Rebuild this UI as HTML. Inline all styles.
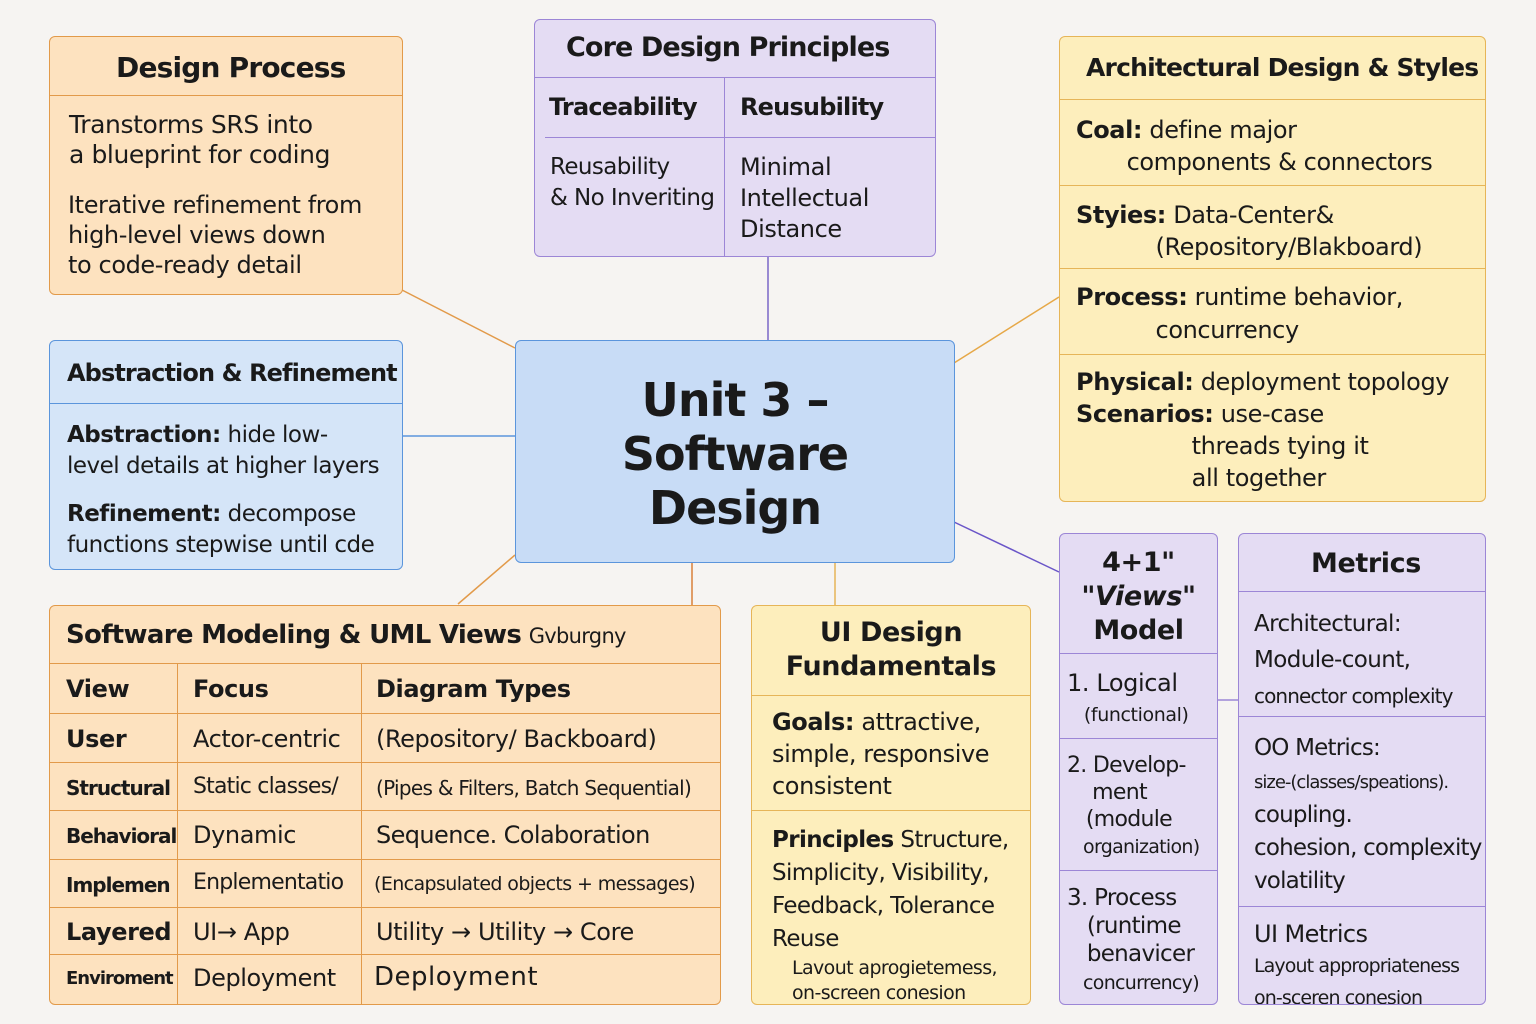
<!DOCTYPE html>
<html><head><meta charset="utf-8">
<style>
body{margin:0;width:1536px;height:1024px;background:#f6f4f2;font-family:"DejaVu Sans","Liberation Sans",sans-serif;color:#1a1a1a;position:relative;overflow:hidden;letter-spacing:-0.4px}
.b{position:absolute;box-sizing:border-box;border-radius:6px;overflow:hidden}
.o{background:#fde2bf;border:1.5px solid #e29a4a}
.p{background:#e4dcf3;border:1.5px solid #9c86d6}
.y{background:#fdeebc;border:1.5px solid #e6b558}
.bl{background:#d5e5f8;border:1.5px solid #5b95dc}
.a{position:absolute;white-space:nowrap}
.h{font-weight:bold}
</style></head><body>
<svg width="1536" height="1024" style="position:absolute;left:0;top:0">
<g stroke-width="1.5" fill="none">
<line x1="402" y1="290" x2="515" y2="348" stroke="#e29a4a"/>
<line x1="392" y1="436" x2="515" y2="436" stroke="#5b95dc"/>
<line x1="768" y1="256" x2="768" y2="340" stroke="#7a66c8"/>
<line x1="954" y1="363" x2="1059" y2="297" stroke="#e6a848"/>
<line x1="954" y1="522" x2="1059" y2="572" stroke="#6a55c8"/>
<line x1="458" y1="604" x2="515" y2="555" stroke="#e29a4a"/>
<line x1="692" y1="562" x2="692" y2="605" stroke="#d9803a"/>
<line x1="835" y1="562" x2="835" y2="605" stroke="#e6b558"/>
<line x1="1217" y1="700" x2="1238" y2="700" stroke="#9c86d6"/>
</g></svg>

<!-- Design Process -->
<div class="b o" style="left:49px;top:36px;width:354px;height:259px">
<div style="height:58px;border-bottom:1.5px solid #e29a4a"></div>
<div class="a h" style="left:66px;top:14px;font-size:28px;letter-spacing:-0.8px">Design Process</div>
<div class="a" style="left:19px;top:73px;font-size:25px;line-height:30px">Transtorms SRS into<br>a blueprint for coding</div>
<div class="a" style="left:18px;top:153px;font-size:24px;line-height:30px">Iterative refinement from<br>high-level views down<br>to code-ready detail</div>
</div>

<!-- Core -->
<div class="b p" style="left:534px;top:19px;width:402px;height:238px">
<div style="position:absolute;left:0;right:0;top:57px;border-top:1.5px solid #9c86d6"></div>
<div style="position:absolute;left:10px;right:0;top:117px;border-top:1.5px solid #9c86d6"></div>
<div style="position:absolute;left:189px;top:57px;bottom:0;border-left:1.5px solid #9c86d6"></div>
<div class="a h" style="left:31px;top:12px;font-size:27px;letter-spacing:-0.9px">Core Design Principles</div>
<div class="a h" style="left:14px;top:73px;font-size:24px;letter-spacing:-0.8px">Traceability</div>
<div class="a h" style="left:205px;top:73px;font-size:24px;letter-spacing:-0.8px">Reusubility</div>
<div class="a" style="left:15px;top:132px;font-size:23px;line-height:31px;letter-spacing:-0.6px">Reusability<br>&amp; No Inveriting</div>
<div class="a" style="left:205px;top:132px;font-size:24px;line-height:31px">Minimal<br>Intellectual<br>Distance</div>
</div>

<!-- Architectural -->
<div class="b y" style="left:1059px;top:36px;width:427px;height:466px">
<div style="position:absolute;left:0;right:0;top:62px;border-top:1.5px solid #e6b558"></div>
<div style="position:absolute;left:0;right:0;top:148px;border-top:1.5px solid #e6b558"></div>
<div style="position:absolute;left:0;right:0;top:231px;border-top:1.5px solid #e6b558"></div>
<div style="position:absolute;left:0;right:0;top:317px;border-top:1.5px solid #e6b558"></div>
<div class="a h" style="left:26px;top:16px;font-size:25px;letter-spacing:-0.8px">Architectural Design &amp; Styles</div>
<div class="a" style="left:16px;top:77px;font-size:24px;line-height:32px"><b>Coal:</b> define major<br>&nbsp;&nbsp;&nbsp;&nbsp;&nbsp;&nbsp;&nbsp;components &amp; connectors</div>
<div class="a" style="left:16px;top:162px;font-size:24px;line-height:32px"><b>Styies:</b> Data-Center&amp;<br>&nbsp;&nbsp;&nbsp;&nbsp;&nbsp;&nbsp;&nbsp;&nbsp;&nbsp;&nbsp;&nbsp;(Repository/Blakboard)</div>
<div class="a" style="left:16px;top:244px;font-size:24px;line-height:33px"><b>Process:</b> runtime behavior,<br>&nbsp;&nbsp;&nbsp;&nbsp;&nbsp;&nbsp;&nbsp;&nbsp;&nbsp;&nbsp;&nbsp;concurrency</div>
<div class="a" style="left:16px;top:329px;font-size:24px;line-height:32px"><b>Physical:</b> deployment topology<br><b>Scenarios:</b> use-case<br>&nbsp;&nbsp;&nbsp;&nbsp;&nbsp;&nbsp;&nbsp;&nbsp;&nbsp;&nbsp;&nbsp;&nbsp;&nbsp;&nbsp;&nbsp;&nbsp;threads tying it<br>&nbsp;&nbsp;&nbsp;&nbsp;&nbsp;&nbsp;&nbsp;&nbsp;&nbsp;&nbsp;&nbsp;&nbsp;&nbsp;&nbsp;&nbsp;&nbsp;all together</div>
</div>

<!-- Abstraction -->
<div class="b bl" style="left:49px;top:340px;width:354px;height:230px">
<div style="position:absolute;left:0;right:0;top:62px;border-top:1.5px solid #5b95dc"></div>
<div class="a h" style="left:17px;top:18px;font-size:24px;letter-spacing:-0.9px">Abstraction &amp; Refinement</div>
<div class="a" style="left:17px;top:79px;font-size:23px;line-height:31px;letter-spacing:-0.5px"><b>Abstraction:</b> hide low-<br>level details at higher layers</div>
<div class="a" style="left:17px;top:158px;font-size:23px;line-height:31px;letter-spacing:-0.5px"><b>Refinement:</b> decompose<br>functions stepwise until cde</div>
</div>

<!-- Central -->
<div class="b" style="left:515px;top:340px;width:440px;height:223px;background:#c8dcf6;border:1.5px solid #5b95dc">
<div style="position:absolute;left:0;right:0;top:32px;text-align:center;font-weight:bold;font-size:46px;line-height:54px;letter-spacing:-1px">Unit 3 –<br>Software<br>Design</div>
</div>

<!-- Software Modeling -->
<div class="b o" style="left:49px;top:605px;width:672px;height:400px">
<div style="position:absolute;left:0;right:0;top:57px;border-top:1.5px solid #e29a4a"></div>
<div style="position:absolute;left:0;right:0;top:107px;border-top:1.5px solid #e29a4a"></div>
<div style="position:absolute;left:0;right:0;top:156px;border-top:1.5px solid #e29a4a"></div>
<div style="position:absolute;left:0;right:0;top:204px;border-top:1.5px solid #e29a4a"></div>
<div style="position:absolute;left:0;right:0;top:253px;border-top:1.5px solid #e29a4a"></div>
<div style="position:absolute;left:0;right:0;top:301px;border-top:1.5px solid #e29a4a"></div>
<div style="position:absolute;left:0;right:0;top:348px;border-top:1.5px solid #e29a4a"></div>
<div style="position:absolute;left:127px;top:57px;bottom:0;border-left:1.5px solid #e29a4a"></div>
<div style="position:absolute;left:311px;top:57px;bottom:0;border-left:1.5px solid #e29a4a"></div>
<div class="a" style="left:16px;top:14px;font-size:26px;letter-spacing:-0.7px"><b>Software Modeling &amp; UML Views</b> <span style="font-size:21px">Gvburgny</span></div>
<div class="a h" style="left:16px;top:69px;font-size:24px">View</div>
<div class="a h" style="left:143px;top:69px;font-size:24px">Focus</div>
<div class="a h" style="left:326px;top:69px;font-size:24px">Diagram Types</div>
<div class="a h" style="left:16px;top:119px;font-size:24px">User</div>
<div class="a" style="left:143px;top:119px;font-size:24px">Actor-centric</div>
<div class="a" style="left:326px;top:119px;font-size:24px">(Repository/ Backboard)</div>
<div class="a h" style="left:16px;top:170px;font-size:20px;letter-spacing:-1px">Structural</div>
<div class="a" style="left:143px;top:168px;font-size:22px;letter-spacing:-0.8px">Static classes/</div>
<div class="a" style="left:326px;top:170px;font-size:20px;letter-spacing:-0.7px">(Pipes &amp; Filters, Batch Sequential)</div>
<div class="a h" style="left:16px;top:218px;font-size:20px;letter-spacing:-1px">Behavioral</div>
<div class="a" style="left:143px;top:215px;font-size:24px">Dynamic</div>
<div class="a" style="left:326px;top:215px;font-size:24px;letter-spacing:-0.6px">Sequence. Colaboration</div>
<div class="a h" style="left:16px;top:267px;font-size:20px;letter-spacing:-1px">Implemen</div>
<div class="a" style="left:143px;top:264px;font-size:22px;letter-spacing:-0.8px">Enplementatio</div>
<div class="a" style="left:324px;top:267px;font-size:19px;letter-spacing:-0.6px">(Encapsulated objects + messages)</div>
<div class="a h" style="left:16px;top:312px;font-size:24px">Layered</div>
<div class="a" style="left:143px;top:312px;font-size:24px">UI→ App</div>
<div class="a" style="left:326px;top:312px;font-size:24px">Utility → Utility → Core</div>
<div class="a h" style="left:16px;top:362px;font-size:18px;letter-spacing:-1px">Enviroment</div>
<div class="a" style="left:143px;top:358px;font-size:24px">Deployment</div>
<div class="a" style="left:324px;top:356px;font-size:26px;letter-spacing:0.5px">Deployment</div>
</div>

<!-- UI Design -->
<div class="b y" style="left:751px;top:605px;width:280px;height:400px">
<div style="position:absolute;left:0;right:0;top:89px;border-top:1.5px solid #e6b558"></div>
<div style="position:absolute;left:0;right:0;top:204px;border-top:1.5px solid #e6b558"></div>
<div style="position:absolute;left:0;right:0;top:10px;text-align:center;font-weight:bold;font-size:27px;line-height:34px">UI Design<br>Fundamentals</div>
<div class="a" style="left:20px;top:100px;font-size:24px;line-height:32px"><b>Goals:</b> attractive,<br>simple, responsive<br>consistent</div>
<div class="a" style="left:20px;top:218px;font-size:23px;line-height:33px;letter-spacing:-0.6px"><b>Principles</b> Structure,<br>Simplicity, Visibility,<br>Feedback, Tolerance<br>Reuse</div>
<div class="a" style="left:40px;top:350px;font-size:19px;line-height:25px;letter-spacing:-0.6px">Lavout aprogietemess,<br>on-screen conesion</div>
</div>

<!-- 4+1 -->
<div class="b p" style="left:1059px;top:533px;width:159px;height:472px">
<div style="position:absolute;left:0;right:0;top:119px;border-top:1.5px solid #9c86d6"></div>
<div style="position:absolute;left:0;right:0;top:204px;border-top:1.5px solid #9c86d6"></div>
<div style="position:absolute;left:0;right:0;top:336px;border-top:1.5px solid #9c86d6"></div>
<div style="position:absolute;left:0;right:0;top:12px;text-align:center;font-weight:bold;font-size:27px;line-height:34px">4+1"<br>"<i>Views</i>"<br>Model</div>
<div class="a" style="left:7px;top:134px;font-size:24px;line-height:30px">1. Logical<br><span style="font-size:19px">&nbsp;&nbsp;&nbsp;(functional)</span></div>
<div class="a" style="left:7px;top:218px;font-size:22px;line-height:27px;letter-spacing:-0.7px">2. Develop-<br>&nbsp;&nbsp;&nbsp;&nbsp;ment<br>&nbsp;&nbsp;&nbsp;(module<br><span style="font-size:19px">&nbsp;&nbsp;&nbsp;organization)</span></div>
<div class="a" style="left:7px;top:350px;font-size:23px;line-height:28px;letter-spacing:-0.7px">3. Process<br>&nbsp;&nbsp;&nbsp;(runtime<br>&nbsp;&nbsp;&nbsp;benavicer<br><span style="font-size:19px">&nbsp;&nbsp;&nbsp;concurrency)</span></div>
</div>

<!-- Metrics -->
<div class="b p" style="left:1238px;top:533px;width:248px;height:472px">
<div style="position:absolute;left:0;right:0;top:57px;border-top:1.5px solid #9c86d6"></div>
<div style="position:absolute;left:0;right:0;top:182px;border-top:1.5px solid #9c86d6"></div>
<div style="position:absolute;left:0;right:0;top:372px;border-top:1.5px solid #9c86d6"></div>
<div class="a h" style="left:72px;top:14px;font-size:27px">Metrics</div>
<div class="a" style="left:15px;top:72px;font-size:23px;line-height:36px;letter-spacing:-0.6px">Architectural:<br>Module-count,<br><span style="font-size:20px;letter-spacing:-0.9px">connector complexity</span></div>
<div class="a" style="left:15px;top:198px;font-size:23px;line-height:33px;letter-spacing:-0.8px">OO Metrics:<br><span style="font-size:18px;letter-spacing:-1px">size-(classes/speations).</span><br>coupling.<br>cohesion, complexity<br>volatility</div>
<div class="a" style="left:15px;top:385px;font-size:24px;line-height:30px;letter-spacing:-0.6px">UI Metrics<br><span style="font-size:19px;letter-spacing:-0.9px">Layout appropriateness<br>on-sceren conesion</span></div>
</div>
</body></html>
